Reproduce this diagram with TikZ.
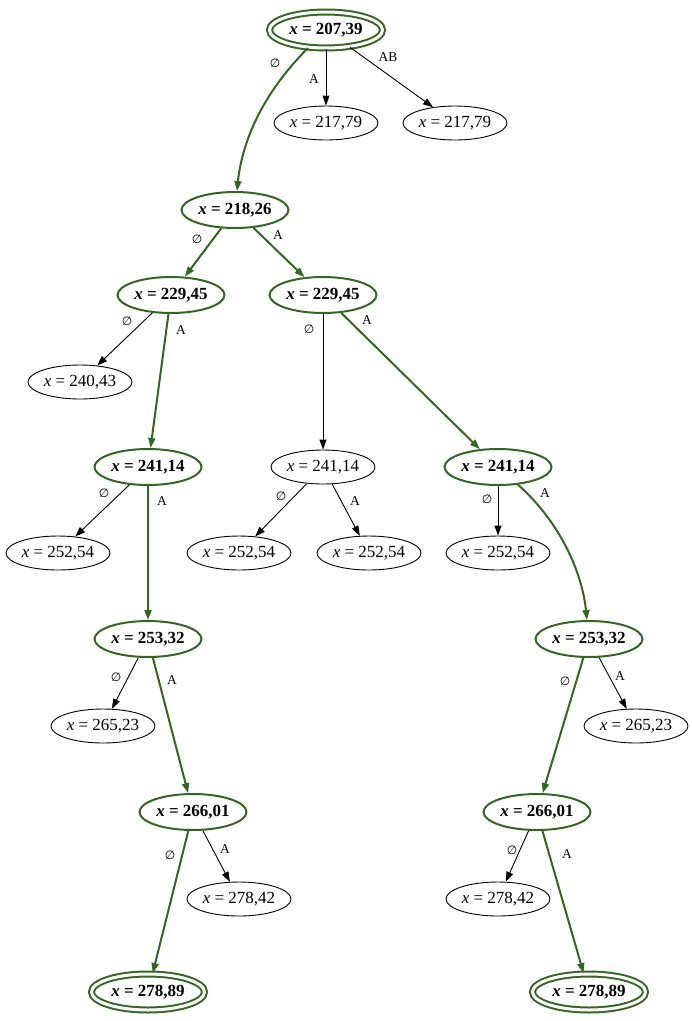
\documentclass[tikz,border=0pt]{standalone}
\usepackage{fontspec}
\setmainfont{Liberation Serif}
\newfontfamily\symfont{DejaVu Sans}
\usetikzlibrary{shapes.geometric,arrows.meta}
\definecolor{pathgreen}{RGB}{51,102,34}
\tikzset{
  base/.style={ellipse,inner sep=0pt,font=\fontsize{17}{19}\selectfont},
  plain/.style={base,draw=black,line width=0.9pt,minimum width=104pt,minimum height=34pt},
  best/.style={base,draw=pathgreen,line width=2pt,minimum width=107pt,minimum height=36pt,font=\fontsize{17}{19}\selectfont\bfseries},
  goal/.style={base,draw=pathgreen,line width=2pt,double=white,double distance=3pt,minimum width=113pt,minimum height=36pt,font=\fontsize{17}{19}\selectfont\bfseries},
  edg/.style={draw=black,line width=0.9pt,-{Triangle[length=10pt,width=7pt]}},
  gedg/.style={draw=pathgreen,line width=2pt,-{Triangle[length=10pt,width=7pt]}},
  lbl/.style={font=\fontsize{13.5}{15}\selectfont,inner sep=0pt},
}
\newcommand{\xv}[1]{\textit{x} = #1}
\newcommand{\nul}{{\symfont\fontsize{12}{14}\selectfont ∅}}
\begin{document}
\begin{tikzpicture}[x=1pt,y=-1pt]
\useasboundingbox (0,-2) rectangle (692,1019);
% nodes
\node[goal] (root) at (326,28) {\xv{207,39}};
\node[plain] (n1) at (326,121) {\xv{217,79}};
\node[plain] (n2) at (455,121) {\xv{217,79}};
\node[best] (a) at (235,208) {\xv{218,26}};
\node[best] (b) at (171,293) {\xv{229,45}};
\node[best] (c) at (323,293) {\xv{229,45}};
\node[plain] (d) at (80,380) {\xv{240,43}};
\node[best] (e) at (148,465) {\xv{241,14}};
\node[plain] (f) at (323,465) {\xv{241,14}};
\node[best] (g) at (498,465) {\xv{241,14}};
\node[plain] (h) at (58,551) {\xv{252,54}};
\node[plain] (i) at (239,551) {\xv{252,54}};
\node[plain] (j) at (369,551) {\xv{252,54}};
\node[plain] (k) at (498,551) {\xv{252,54}};
\node[best] (l) at (148,637) {\xv{253,32}};
\node[best] (m) at (589,637) {\xv{253,32}};
\node[plain] (n) at (103,724) {\xv{265,23}};
\node[plain] (o) at (636,724) {\xv{265,23}};
\node[best] (p) at (193,810) {\xv{266,01}};
\node[best] (q) at (537,810) {\xv{266,01}};
\node[plain] (r) at (239,897) {\xv{278,42}};
\node[plain] (s) at (498,897) {\xv{278,42}};
\node[goal] (t) at (148,990) {\xv{278,89}};
\node[goal] (u) at (589,990) {\xv{278,89}};
% edges
\draw[gedg] (root) .. controls (262,92) and (242,140) .. (a) node[lbl,at={(275,61)}] {\nul};
\draw[edg] (root.south) -- (n1) node[lbl,at={(314,77)}] {A};
\draw[edg] (root) -- (n2) node[lbl,at={(388,55)}] {AB};
\draw[gedg] (a) -- (b) node[lbl,at={(197,237)}] {\nul};
\draw[gedg] (a) -- (c) node[lbl,at={(278,233)}] {A};
\draw[edg] (b) -- (d) node[lbl,at={(127,319)}] {\nul};
\draw[gedg] (b) -- (e) node[lbl,at={(181,328)}] {A};
\draw[edg] (c.south) -- (f) node[lbl,at={(309,327)}] {\nul};
\draw[gedg] (c) -- (g) node[lbl,at={(367,318)}] {A};
\draw[edg] (e) -- (h) node[lbl,at={(104,491)}] {\nul};
\draw[gedg] (e) -- (l) node[lbl,at={(162,499)}] {A};
\draw[edg] (f) -- (i) node[lbl,at={(281,494)}] {\nul};
\draw[edg] (f) -- (j) node[lbl,at={(355,499)}] {A};
\draw[edg] (g) -- (k) node[lbl,at={(487,497)}] {\nul};
\draw[gedg] (g) .. controls (560,520) and (582,570) .. (m) node[lbl,at={(545,491)}] {A};
\draw[edg] (l) -- (n) node[lbl,at={(116,675)}] {\nul};
\draw[gedg] (l) -- (p) node[lbl,at={(172,678)}] {A};
\draw[gedg] (m) -- (q) node[lbl,at={(565,679)}] {\nul};
\draw[edg] (m) -- (o) node[lbl,at={(620,674)}] {A};
\draw[gedg] (p) -- (t) node[lbl,at={(170,853)}] {\nul};
\draw[edg] (p) -- (r) node[lbl,at={(225,847)}] {A};
\draw[edg] (q) -- (s) node[lbl,at={(512,848)}] {\nul};
\draw[gedg] (q) -- (u) node[lbl,at={(567,852)}] {A};
\end{tikzpicture}
\end{document}
